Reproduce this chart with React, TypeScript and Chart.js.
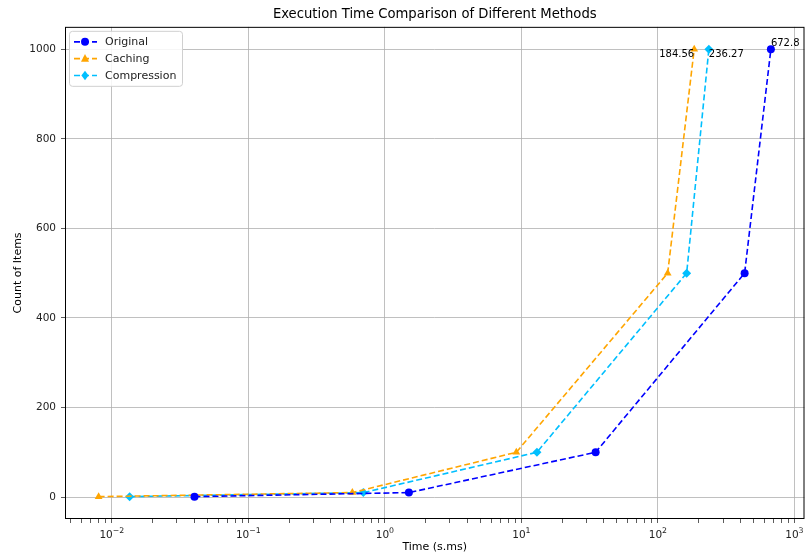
import React, { useEffect, useRef } from "react";
import { Chart, registerables } from "chart.js";

Chart.register(...registerables);

const countValues = [1, 10, 100, 500, 1000];
const originalTimes = [0.0403, 1.5, 35.0, 432, 672.8];
const cachingTimes = [0.008, 0.578, 9.18, 118, 184.56];
const compressionTimes = [0.0135, 0.695, 13.0, 162.5, 236.27];
const seriesNames = ["Original", "Caching", "Compression"];
const seriesColors = ["#0000ff", "#ffa500", "#00bfff"];
const seriesMarkers = ["circle", "triangle", "rectRot"];
const xMajorTicks = [0.01, 0.1, 1, 10, 100, 1000];
const xTickExponents = ["−2", "−1", "0", "1", "2", "3"];
const yTicks = [0, 200, 400, 600, 800, 1000];
const endLabels = ["672.8", "184.56", "236.27"];

const FONT = "'DejaVu Sans', sans-serif";

function isPow10(v: number) {
  const l = Math.log10(v);
  return Math.abs(l - Math.round(l)) < 1e-9;
}

const framePlugin = {
  id: "frame",
  beforeDatasetsDraw(chart: any) {
    const { ctx, chartArea: a } = chart;
    ctx.save();
    ctx.strokeStyle = "#000";
    ctx.lineWidth = 1;
    ctx.strokeRect(a.left + 0.5, a.top + 0.5, a.right - a.left - 1, a.bottom - a.top - 1);
    ctx.restore();
  },
};

const xLabelPlugin = {
  id: "xPowLabels",
  afterDraw(chart: any) {
    const { ctx } = chart;
    const sc = chart.scales.x;
    ctx.save();
    ctx.fillStyle = "#222";
    ctx.textBaseline = "alphabetic";
    xMajorTicks.forEach((v, i) => {
      const x = sc.getPixelForValue(v);
      const base = sc.top + 19;
      ctx.font = `10.5px ${FONT}`;
      const w1 = ctx.measureText("10").width;
      ctx.font = `7.8px ${FONT}`;
      const w2 = ctx.measureText(xTickExponents[i]).width;
      const left = x - (w1 + w2) / 2;
      ctx.font = `10.5px ${FONT}`;
      ctx.textAlign = "left";
      ctx.fillText("10", left, base);
      ctx.font = `7.8px ${FONT}`;
      ctx.fillText(xTickExponents[i], left + w1, base - 5);
    });
    ctx.restore();
  },
};

const labelPlugin = {
  id: "endLabels",
  afterDatasetsDraw(chart: any) {
    const { ctx } = chart;
    ctx.save();
    ctx.font = `10px ${FONT}`;
    ctx.fillStyle = "#000";
    const cfg = [
      { align: "left", base: "bottom", dy: -1 },
      { align: "right", base: "top", dy: 0 },
      { align: "left", base: "top", dy: 0 },
    ];
    chart.data.datasets.forEach((ds: any, i: number) => {
      const meta = chart.getDatasetMeta(i);
      const pt = meta.data[meta.data.length - 1];
      ctx.textAlign = cfg[i].align;
      ctx.textBaseline = cfg[i].base;
      ctx.fillText(endLabels[i], pt.x, pt.y + cfg[i].dy);
    });
    ctx.restore();
  },
};

function drawMarker(ctx: CanvasRenderingContext2D, kind: string, x: number, y: number, r: number) {
  ctx.beginPath();
  if (kind === "circle") {
    ctx.arc(x, y, r, 0, Math.PI * 2);
  } else if (kind === "triangle") {
    ctx.moveTo(x, y - r * 1.15);
    ctx.lineTo(x + r, y + r * 0.75);
    ctx.lineTo(x - r, y + r * 0.75);
    ctx.closePath();
  } else {
    ctx.moveTo(x, y - r * 1.2);
    ctx.lineTo(x + r * 0.9, y);
    ctx.lineTo(x, y + r * 1.2);
    ctx.lineTo(x - r * 0.9, y);
    ctx.closePath();
  }
  ctx.fill();
}

const legendPlugin = {
  id: "mplLegend",
  afterDraw(chart: any) {
    const { ctx, chartArea: a } = chart;
    const x0 = a.left + 4;
    const y0 = a.top + 4;
    const w = 113;
    const h = 55;
    ctx.save();
    ctx.fillStyle = "rgba(255,255,255,0.85)";
    ctx.strokeStyle = "#d0d0d0";
    ctx.lineWidth = 1;
    ctx.beginPath();
    (ctx as any).roundRect(x0 + 0.5, y0 + 0.5, w, h, 3);
    ctx.fill();
    ctx.stroke();
    seriesNames.forEach((name, i) => {
      const y = y0 + 11 + i * 16.8;
      ctx.strokeStyle = seriesColors[i];
      ctx.lineWidth = 1.6;
      ctx.setLineDash([6, 3]);
      ctx.beginPath();
      ctx.moveTo(x0 + 5, y);
      ctx.lineTo(x0 + 28, y);
      ctx.stroke();
      ctx.setLineDash([]);
      ctx.fillStyle = seriesColors[i];
      drawMarker(ctx, seriesMarkers[i], x0 + 16, y, 4);
      ctx.fillStyle = "#222";
      ctx.font = `11px ${FONT}`;
      ctx.textAlign = "left";
      ctx.textBaseline = "middle";
      ctx.fillText(name, x0 + 36, y + 0.5);
    });
    ctx.restore();
  },
};

export default function App() {
  const ref = useRef<HTMLCanvasElement>(null);
  useEffect(() => {
    document.body.style.margin = "0";
    const seriesTimes = [originalTimes, cachingTimes, compressionTimes];
    const datasets = seriesNames.map((name, i) => ({
      label: name,
      data: seriesTimes[i].map((t, j) => ({ x: t, y: countValues[j] })),
      borderColor: seriesColors[i],
      backgroundColor: seriesColors[i],
      borderWidth: 1.6,
      borderDash: [6, 3],
      pointStyle: seriesMarkers[i],
      pointRadius: i === 0 ? 4 : 4.5,
      pointBorderWidth: 0,
      pointBackgroundColor: seriesColors[i],
      tension: 0,
      fill: false,
    }));
    const allT = seriesTimes.flat();
    const lmin = Math.log10(Math.min(...allT));
    const lmax = Math.log10(Math.max(...allT));
    const xm = (lmax - lmin) * 0.05;
    const ym = (Math.max(...countValues) - Math.min(...countValues)) * 0.05;
    const chart = new Chart(ref.current!, {
      type: "line",
      data: { datasets },
      plugins: [framePlugin, labelPlugin, legendPlugin, xLabelPlugin],
      options: {
        animation: false,
        responsive: false,
        devicePixelRatio: 1,
        layout: { padding: { left: 0, right: 1, top: 0, bottom: 0 } },
        plugins: {
          legend: { display: false },
          tooltip: { enabled: false },
          title: {
            display: true,
            fullSize: false,
            text: "Execution Time Comparison of Different Methods",
            color: "#000",
            font: { family: FONT, size: 13.2, weight: "normal" },
            padding: { top: 7, bottom: 4 },
          },
        },
        scales: {
          x: {
            type: "logarithmic",
            min: Math.pow(10, lmin - xm),
            max: Math.pow(10, lmax + xm),
            afterBuildTicks(scale: any) {
              const ticks: any[] = [];
              for (let e = -3; e <= 3; e++) {
                for (let m = 1; m <= 9; m++) {
                  const v = m * Math.pow(10, e);
                  if (v >= scale.min && v <= scale.max) ticks.push({ value: v, major: m === 1 });
                }
              }
              scale.ticks = ticks;
            },
            afterFit(scale: any) {
              scale.height = 36;
              scale.paddingLeft = 0;
              scale.paddingRight = 0;
            },
            ticks: {
              autoSkip: false,
              maxRotation: 0,
              padding: 2,
              color: "#222",
              font: { family: FONT, size: 10.5 },
              callback: () => "",
            },
            grid: {
              color: (c: any) => (c.tick && isPow10(c.tick.value) ? "#b0b0b0" : "rgba(0,0,0,0)"),
              lineWidth: 0.8,
              tickColor: "#333",
              tickLength: 4,
              drawTicks: true,
            },
            border: { display: false },
            title: {
              display: true,
              text: "Time (s.ms)",
              color: "#000",
              font: { family: FONT, size: 11 },
              padding: { top: 0, bottom: 1 },
            },
          },
          y: {
            type: "linear",
            min: Math.min(...countValues) - ym,
            max: Math.max(...countValues) + ym,
            afterBuildTicks(scale: any) {
              scale.ticks = yTicks.map((v) => ({ value: v }));
            },
            afterFit(scale: any) {
              scale.width = 65;
            },
            ticks: {
              padding: 5,
              color: "#222",
              font: { family: FONT, size: 10.5 },
              callback: (v: any) => String(v),
            },
            grid: {
              color: "#b0b0b0",
              lineWidth: 0.8,
              tickColor: "#333",
              tickLength: 4,
            },
            border: { display: false },
            title: {
              display: true,
              text: "Count of Items",
              color: "#000",
              font: { family: FONT, size: 11 },
              padding: { top: 12, bottom: 0 },
            },
          },
        },
      } as any,
    });
    return () => chart.destroy();
  }, []);
  return <canvas ref={ref} width={809} height={555} style={{ display: "block", width: 809, height: 555 }} />;
}
